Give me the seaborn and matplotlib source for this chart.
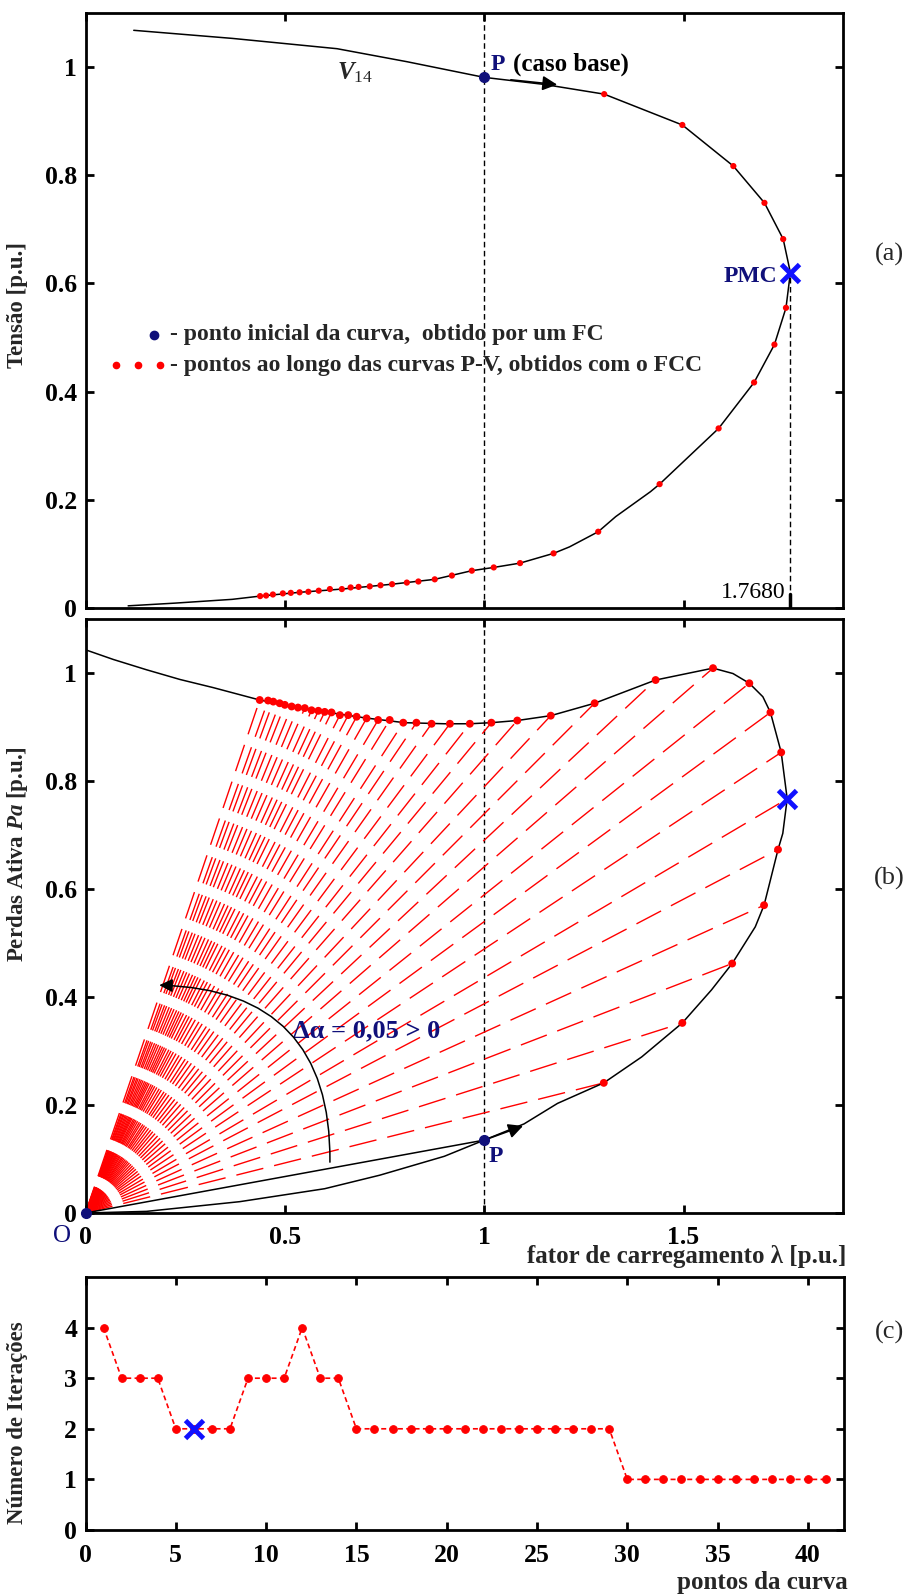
import matplotlib
matplotlib.use("Agg")
import matplotlib.pyplot as plt
import numpy as np
import pandas as pd
import seaborn as sns
from matplotlib.ticker import FuncFormatter
from matplotlib.patches import FancyArrowPatch

# ---------------- data ----------------
# Panel (a): P-V curve of bus 14 (continuous black trace)
pv_curve_lam = [0.121, 0.369, 0.631, 0.806, 1.000, 1.150, 1.301, 1.497, 1.625, 1.703, 1.750,
                1.768, 1.757, 1.728, 1.677, 1.588, 1.440, 1.417, 1.330, 1.286, 1.214, 1.174,
                1.090, 1.024, 0.969, 0.876, 0.769, 0.643, 0.537, 0.438, 0.368, 0.224, 0.107]
pv_curve_v = [1.068, 1.053, 1.034, 1.010, 0.981, 0.968, 0.950, 0.893, 0.817, 0.749, 0.682,
              0.620, 0.555, 0.487, 0.417, 0.332, 0.229, 0.215, 0.169, 0.141, 0.113, 0.101,
              0.083, 0.075, 0.069, 0.053, 0.044, 0.035, 0.029, 0.022, 0.016, 0.009, 0.004]
# Panel (a): points obtained with the FCC (red)
pv_pts_lam = [1.301, 1.497, 1.625, 1.703, 1.750, 1.757, 1.728, 1.677, 1.588, 1.440, 1.286,
              1.174, 1.090, 1.024, 0.969, 0.919, 0.876, 0.835, 0.806, 0.769, 0.740, 0.713,
              0.685, 0.665, 0.643, 0.613, 0.585, 0.559, 0.537, 0.515, 0.495, 0.470, 0.453, 0.438]
pv_pts_v = [0.950, 0.893, 0.817, 0.749, 0.682, 0.555, 0.487, 0.417, 0.332, 0.229, 0.141,
            0.101, 0.083, 0.075, 0.069, 0.060, 0.053, 0.049, 0.047, 0.044, 0.042, 0.040,
            0.039, 0.038, 0.035, 0.035, 0.032, 0.030, 0.029, 0.028, 0.027, 0.025, 0.023, 0.022]
base_lam, base_v = 1.0, 0.981          # P (caso base)
pmc_lam, pmc_v = 1.768, 0.620          # PMC

# Panel (b): active losses curve (black trace)
pa_curve_lam = [0.000, 0.070, 0.153, 0.237, 0.320, 0.437, 0.500, 0.600, 0.700, 0.800, 0.900,
                0.964, 1.018, 1.083, 1.167, 1.277, 1.430, 1.574, 1.624, 1.665, 1.699, 1.718,
                1.745, 1.760, 1.749, 1.737, 1.716, 1.702, 1.680, 1.622, 1.570, 1.497, 1.395,
                1.300, 1.184, 1.100, 1.000, 0.900, 0.738, 0.600, 0.387, 0.153, 0.000]
pa_curve_pa = [1.043, 1.025, 1.006, 0.988, 0.973, 0.950, 0.941, 0.928, 0.917, 0.908, 0.906,
               0.906, 0.908, 0.912, 0.921, 0.944, 0.987, 1.009, 0.999, 0.981, 0.956, 0.927,
               0.853, 0.767, 0.703, 0.673, 0.611, 0.570, 0.530, 0.462, 0.413, 0.352, 0.289,
               0.241, 0.203, 0.165, 0.135, 0.105, 0.070, 0.045, 0.021, 0.003, 0.000]
# Panel (b): points obtained with the FCC (red), each one the end of a trace from O
pa_pts_lam = [0.437, 0.458, 0.471, 0.487, 0.500, 0.517, 0.533, 0.550, 0.567, 0.584, 0.600,
              0.617, 0.638, 0.659, 0.680, 0.705, 0.734, 0.763, 0.797, 0.830, 0.868, 0.914,
              0.964, 1.018, 1.083, 1.167, 1.277, 1.430, 1.574, 1.665, 1.718, 1.745, 1.760,
              1.737, 1.702, 1.622, 1.497, 1.300]
pa_pts_pa = [0.950, 0.949, 0.947, 0.944, 0.941, 0.938, 0.936, 0.935, 0.931, 0.930, 0.928,
             0.927, 0.922, 0.922, 0.919, 0.916, 0.913, 0.913, 0.908, 0.908, 0.906, 0.906,
             0.906, 0.908, 0.912, 0.921, 0.944, 0.987, 1.009, 0.981, 0.927, 0.853, 0.767,
             0.673, 0.570, 0.462, 0.352, 0.241]
base_pa = 0.135
pmc_lam_b, pmc_pa = 1.760, 0.767

# Panel (c): number of iterations per curve point
iter_points = list(range(1, 42))
iter_counts = [4, 3, 3, 3, 2, 2, 2, 2, 3, 3, 3, 4, 3, 3, 2, 2, 2, 2, 2, 2, 2, 2, 2, 2, 2, 2,
               2, 2, 2, 1, 1, 1, 1, 1, 1, 1, 1, 1, 1, 1, 1]
pmc_point, pmc_iter = 6, 2

ab_xticks = [0, 0.5, 1, 1.5]
ab_yticks = [0, 0.2, 0.4, 0.6, 0.8, 1]
c_xticks = [0, 5, 10, 15, 20, 25, 30, 35, 40]
c_yticks = [0, 1, 2, 3, 4]

# ---------------- style ----------------
sns.set_theme(style="ticks")
plt.rcParams['font.family'] = ['Liberation Serif', 'DejaVu Serif']
plt.rcParams['mathtext.fontset'] = 'custom'
plt.rcParams['mathtext.rm'] = 'Liberation Serif'
plt.rcParams['mathtext.it'] = 'Liberation Serif:italic:bold'
plt.rcParams['mathtext.bf'] = 'Liberation Serif:bold'
plt.rcParams['axes.linewidth'] = 2.0
plt.rcParams['axes.edgecolor'] = 'black'

NAVY = '#10107a'
BLUE = '#1010ff'
RED = '#ff0000'

W, H = 906, 1594
fig = plt.figure(figsize=(W / 100, H / 100), dpi=100)
fig.patch.set_facecolor('white')


def ax_rect(left, top, right, bottom):
    return [left / W, 1 - bottom / H, (right - left) / W, (bottom - top) / H]


ax_a = fig.add_axes(ax_rect(85.5, 13, 843, 608))
ax_b = fig.add_axes(ax_rect(85.5, 619, 843, 1213))
ax_c = fig.add_axes(ax_rect(85.5, 1277, 844, 1530))

fmt = FuncFormatter(lambda v, p: '%g' % v)
for ax in (ax_a, ax_b, ax_c):
    ax.set_facecolor('white')
    for s in ax.spines.values():
        s.set_linewidth(2.0)
        s.set_visible(True)
    ax.tick_params(direction='in', length=6, width=2, top=True, right=True,
                   labelsize=18, pad=6, colors='black')

# ---------------- panel (a) ----------------
ax = ax_a
ax.set_xlim(0, 1.9)
ax.set_ylim(0, 1.1)
ax.axvline(base_lam, color='black', lw=1.0, dashes=(4, 2.5))
ax.plot([pmc_lam, pmc_lam], [0, pmc_v], color='black', lw=1.0, dashes=(4, 2.5))
ax.plot([pmc_lam, pmc_lam], [0, 0.025], color='black', lw=2.5)
sns.lineplot(x=pv_curve_lam, y=pv_curve_v, sort=False, estimator=None, color='black',
             lw=1.1, ax=ax)
sns.scatterplot(x=pv_pts_lam, y=pv_pts_v, color=RED, s=20, edgecolor='none', ax=ax, zorder=5)
ax.plot([base_lam], [base_v], 'o', color=NAVY, ms=7, zorder=6)
ax.plot([pmc_lam], [pmc_v], 'x', color=BLUE, ms=13, mew=3.5, zorder=7)
ax.annotate('', xy=(1.19, 0.967), xytext=(1.06, 0.977),
            arrowprops=dict(arrowstyle='-|>', color='black', lw=1.2, mutation_scale=22))
ax.text(1.015, 1.005, 'P', color=NAVY, fontsize=17, fontweight='bold', ha='left', va='center')
ax.text(1.072, 1.005, '(caso base)', color='black', fontsize=18, fontweight='bold',
        ha='left', va='center')
ax.text(0.63, 0.99, r'$V_{14}$', fontsize=18, ha='left', va='center')
ax.text(1.735, 0.613, 'PMC', color=NAVY, fontsize=17, fontweight='bold', ha='right', va='center')
ax.text(1.756, 0.028, '1.7680', color='black', fontsize=17, ha='right', va='center')
# legend inside panel (a)
ax.plot([0.172], [0.505], 'o', color=NAVY, ms=6)
ax.plot([0.077, 0.131, 0.186], [0.449, 0.449, 0.449], 'o', color=RED, ms=4.5, lw=0)
ax.text(0.212, 0.505, '- ponto inicial da curva,  obtido por um FC', fontsize=17,
        fontweight='bold', ha='left', va='center')
ax.text(0.212, 0.449, '- pontos ao longo das curvas P-V, obtidos com o FCC', fontsize=17,
        fontweight='bold', ha='left', va='center')
ax.set_xticks(ab_xticks)
ax.set_yticks(ab_yticks)
ax.yaxis.set_major_formatter(fmt)
ax.set_xticklabels([])
ax.set_xlabel('')
ax.set_ylabel('')

# ---------------- panel (b) ----------------
ax = ax_b
ax.set_xlim(0, 1.9)
ax.set_ylim(0, 1.1)
ax.axvline(base_lam, color='black', lw=1.0, dashes=(4, 2.5))
for lx, py in zip(pa_pts_lam, pa_pts_pa):
    ax.plot([0, lx], [0, py], color=RED, lw=1.0, dashes=(20, 8), zorder=2)
sns.lineplot(x=pa_curve_lam, y=pa_curve_pa, sort=False, estimator=None, color='black',
             lw=1.1, ax=ax, zorder=3)
ax.plot([0, base_lam], [0, base_pa], color='black', lw=1.1, zorder=3)
pts_b = [(x, y) for x, y in zip(pa_pts_lam, pa_pts_pa) if not (x == pmc_lam_b and y == pmc_pa)]
sns.scatterplot(x=[p[0] for p in pts_b], y=[p[1] for p in pts_b], color=RED, s=32,
                edgecolor='none', ax=ax, zorder=5)
ax.plot([base_lam], [base_pa], 'o', color=NAVY, ms=7, zorder=6)
ax.plot([0], [0], 'o', color=NAVY, ms=7, zorder=6, clip_on=False)
ax.plot([pmc_lam_b], [pmc_pa], 'x', color=BLUE, ms=13, mew=3.5, zorder=7)
ax.annotate('', xy=(1.104, 0.163), xytext=(1.0, 0.135),
            arrowprops=dict(arrowstyle='-|>', color='black', lw=1.2, mutation_scale=22))
arc = FancyArrowPatch(posA=(0.613, 0.089), posB=(0.178, 0.422),
                      connectionstyle='arc3,rad=0.5', arrowstyle='-|>',
                      mutation_scale=20, color='black', lw=1.1, zorder=6)
ax.add_patch(arc)
ax.text(0.52, 0.337, 'Δα = 0,05 > 0', color=NAVY, fontsize=19, fontweight='bold',
        ha='left', va='center')
ax.text(1.012, 0.105, 'P', color=NAVY, fontsize=17, fontweight='bold', ha='left', va='center')
ax.set_xticks(ab_xticks)
ax.set_yticks(ab_yticks)
ax.xaxis.set_major_formatter(fmt)
ax.yaxis.set_major_formatter(fmt)
ax.tick_params(axis='x', pad=9)
ax.set_xlabel('')
ax.set_ylabel('')

# ---------------- panel (c) ----------------
ax = ax_c
ax.set_xlim(0, 42)
ax.set_ylim(0, 5)
sns.lineplot(x=iter_points, y=iter_counts, color=RED, lw=1.2, marker='o', markersize=5.5,
             markeredgecolor=RED, estimator=None, ax=ax)
ax.lines[-1].set_dashes((3, 2))
ax.plot([pmc_point], [pmc_iter], 'x', color=BLUE, ms=13, mew=3.5, zorder=7)
ax.set_xticks(c_xticks)
ax.set_yticks(c_yticks)
ax.tick_params(axis='x', pad=10)
ax.set_xlabel('')
ax.set_ylabel('')

for ax in (ax_a, ax_b, ax_c):
    for lab in ax.get_xticklabels() + ax.get_yticklabels():
        lab.set_fontweight('bold')
        lab.set_fontsize(18.5)

# ---------------- figure texts ----------------
fig.text(18 / W, 1 - 305 / H, 'Tensão [p.u.]', rotation=90, fontsize=16.5, fontweight='bold',
         ha='center', va='center')
fig.text(18 / W, 1 - 854 / H, r'Perdas Ativa $\mathit{Pa}$ [p.u.]', rotation=90, fontsize=16.5,
         fontweight='bold', ha='center', va='center')
fig.text(18 / W, 1 - 1423 / H, 'Número de Iterações', rotation=90, fontsize=16.5,
         fontweight='bold', ha='center', va='center')
fig.text(846 / W, 1 - 1257 / H, 'fator de carregamento λ [p.u.]', fontsize=18,
         fontweight='bold', ha='right', va='center')
fig.text(848 / W, 1 - 1582 / H, 'pontos da curva', fontsize=18, fontweight='bold',
         ha='right', va='center')
fig.text(62 / W, 1 - 1236 / H, 'O', color=NAVY, fontsize=18, ha='center', va='center')
fig.text(889 / W, 1 - 254 / H, '(a)', fontsize=19, ha='center', va='center')
fig.text(889 / W, 1 - 878 / H, '(b)', fontsize=19, ha='center', va='center')
fig.text(889 / W, 1 - 1332 / H, '(c)', fontsize=19, ha='center', va='center')

fig.savefig('out.png', dpi=100, facecolor='white')
